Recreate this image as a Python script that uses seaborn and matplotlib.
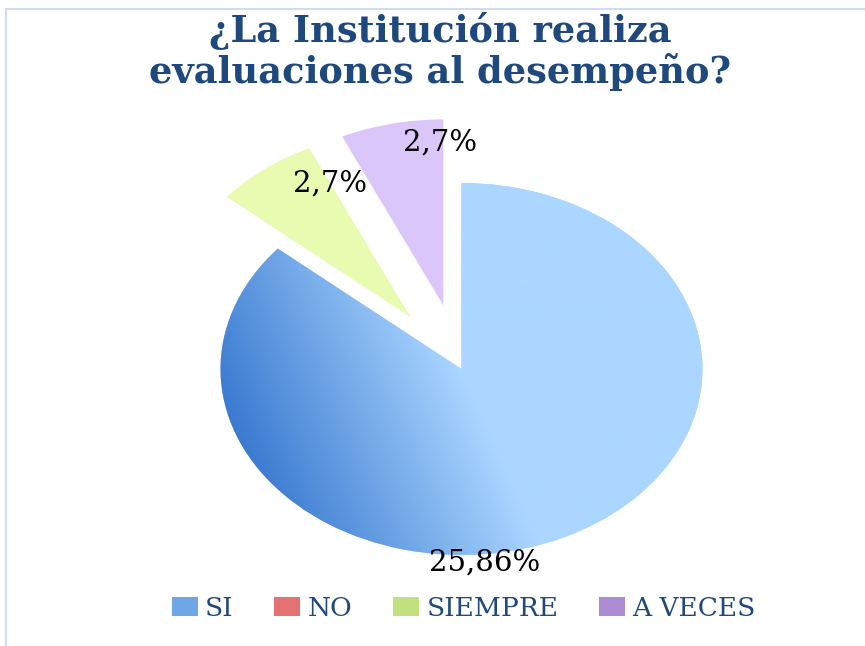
import numpy as np
import matplotlib.pyplot as plt
import seaborn as sns
from matplotlib.colors import LinearSegmentedColormap
from matplotlib.patches import Rectangle, Patch

# Datos
categorias = ["SI", "NO", "SIEMPRE", "A VECES"]
respuestas = [25, 0, 2, 2]
separacion = [0, 0, 0.35, 0.35]

colores = ["#ABD6FF", "#E06666", "#E9FBB0", "#DAC6F9"]
colores_leyenda = ["#6FA6E6", "#E47272", "#C3E07F", "#AE8CD3"]

sns.set_theme(style="white")
plt.rcParams["font.family"] = ["DejaVu Serif", "DejaVu Sans"]

fig = plt.figure(figsize=(8.65, 6.46), dpi=100)
ax = fig.add_axes([0.1156, 0.0113, 0.8358, 0.835])

wedges, _ = ax.pie(respuestas, explode=separacion, colors=colores,
                   startangle=90, counterclock=False, radius=1,
                   wedgeprops=dict(linewidth=0))
ax.set_aspect("auto")

# degradado del sector SI
xx, yy = np.meshgrid(np.linspace(-1.05, 1.05, 500), np.linspace(-1.05, 1.05, 500))
ang = np.deg2rad(19)
t = np.clip(xx * np.cos(ang) + yy * np.sin(ang), -1, 0)
cmap = LinearSegmentedColormap.from_list("si", ["#3A7AD0", "#ABD6FF"])
im = ax.imshow(t, extent=(-1.05, 1.05, -1.05, 1.05), origin="lower", cmap=cmap,
               vmin=-1, vmax=0, aspect="auto", zorder=wedges[0].get_zorder() + 0.1)
im.set_clip_path(wedges[0])

ax.set_xlim(-1.5, 1.5)
ax.set_ylim(-1.45, 1.45)
ax.axis("off")

# etiquetas "valor,porcentaje"
total = sum(respuestas)
pos_etiquetas = {"SI": (0.0975, -1.043), "SIEMPRE": (-0.546, 0.995), "A VECES": (-0.089, 1.215)}
for cat, v in zip(categorias, respuestas):
    if v == 0:
        continue
    pct = round(100 * v / total)
    x, y = pos_etiquetas[cat]
    ax.text(x, y, f"{v},{pct}%", ha="center", va="center", fontsize=21,
            color="black", zorder=5)

fig.text(0.509, 0.981, "¿La Institución realiza\nevaluaciones al desempeño?",
         ha="center", va="top", fontsize=26.5, fontweight="bold",
         color="#1F497D", linespacing=1.08)

handles = [Patch(facecolor=c, edgecolor="none") for c in colores_leyenda]
fig.legend(handles, categorias, loc="center", bbox_to_anchor=(0.536, 0.0588),
           ncol=4, frameon=False, fontsize=19, labelcolor="#1F497D",
           handlelength=0.985, handleheight=0.76, handletextpad=0.27,
           columnspacing=1.55, borderpad=0)

fig.add_artist(Rectangle((6 / 865, -0.1), 2, 1 - 9 / 646 + 0.1,
                         transform=fig.transFigure, fill=False,
                         edgecolor="#D3DCEF", lw=1.5))

fig.savefig("out.png", dpi=100)
